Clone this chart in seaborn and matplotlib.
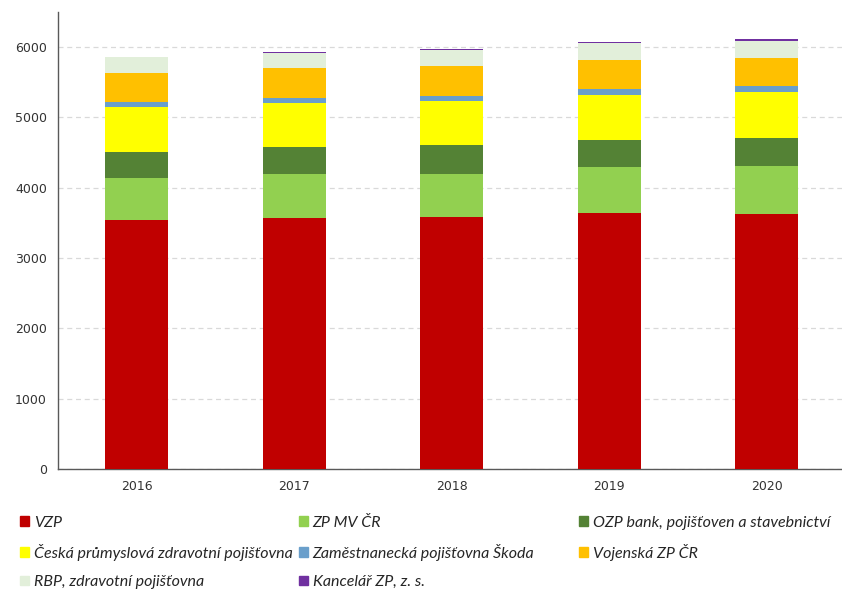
import pandas as pd
import matplotlib.pyplot as plt
import matplotlib.patches as mpatches
import seaborn as sns

#######################################################
### Data

years = ["2016", "2017", "2018", "2019", "2020"]

series_names = [
    "VZP",
    "ZP MV ČR",
    "OZP bank, pojišťoven a stavebnictví",
    "Česká průmyslová zdravotní pojišťovna",
    "Zaměstnanecká pojišťovna Škoda",
    "Vojenská ZP ČR",
    "RBP, zdravotní pojišťovna",
    "Kancelář ZP, z. s.",
]

vzp = [3541, 3573, 3587, 3636, 3622]
zp_mv = [601, 617, 612, 654, 686]
ozp = [370, 384, 404, 388, 403]
cpzp = [631, 626, 630, 644, 654]
zps = [80, 71, 71, 77, 85]
vozp = [403, 426, 431, 416, 394]
rbp = [225, 218, 223, 235, 242]
kancelar = [10, 14, 18, 17, 24]

colors = [
    "#C00000",
    "#92D050",
    "#548235",
    "#FFFF00",
    "#6A9FCB",
    "#FFC000",
    "#E2EFDA",
    "#7030A0",
]

#######################################################
### Build table

df = pd.DataFrame(
    [vzp, zp_mv, ozp, cpzp, zps, vozp, rbp, kancelar],
    index=series_names,
    columns=years
).T

cum = df.cumsum(axis=1)

#######################################################
### Plot

sns.set_theme(style="white")
plt.rcParams["font.family"] = ["DejaVu Sans"]

fig = plt.figure(figsize=(8.42, 5.90), dpi=100)
ax = fig.add_axes([0.069, 0.205, 0.935, 0.775])

# stacked bars: draw cumulative totals from the top layer downwards
for name, color in reversed(list(zip(series_names, colors))):

    plot_df = pd.DataFrame({
        "year": years,
        "value": cum[name].values
    })

    sns.barplot(
        data=plot_df,
        x="year",
        y="value",
        color=color,
        width=0.4,
        saturation=1,
        edgecolor="none",
        linewidth=0,
        ax=ax,
        zorder=3
    )

ax.set_xlim(-0.5, 4.5)
ax.set_ylim(0, 6500)
ax.set_yticks(range(0, 7000, 1000))
ax.set_xlabel("")
ax.set_ylabel("")

ax.yaxis.grid(True, linestyle=(0, (4, 3)), color="#D9D9D9", linewidth=0.9, zorder=0)
ax.xaxis.grid(False)

for side in ["top", "right"]:
    ax.spines[side].set_visible(False)

for side in ["left", "bottom"]:
    ax.spines[side].set_color("#595959")
    ax.spines[side].set_linewidth(1.0)

ax.tick_params(axis="both", labelsize=9, colors="#333333", length=0, pad=8)

#######################################################
### Legend, three columns laid out row by row

handles = [
    mpatches.Patch(color=c, label=n)
    for n, c in zip(series_names, colors)
]

columns = [
    ([0, 3, 6], 0.007),
    ([1, 4, 7], 0.338),
    ([2, 5], 0.671),
]

for idx, x in columns:

    fig.legend(
        handles=[handles[i] for i in idx],
        loc="upper left",
        bbox_to_anchor=(x, 0.15),
        frameon=False,
        prop={"family": "Lato", "style": "italic", "size": 11.5},
        handlelength=0.55,
        handleheight=0.55,
        handletextpad=0.3,
        labelspacing=0.88,
        labelcolor="#262626"
    )

fig.savefig("out.png", dpi=100)
